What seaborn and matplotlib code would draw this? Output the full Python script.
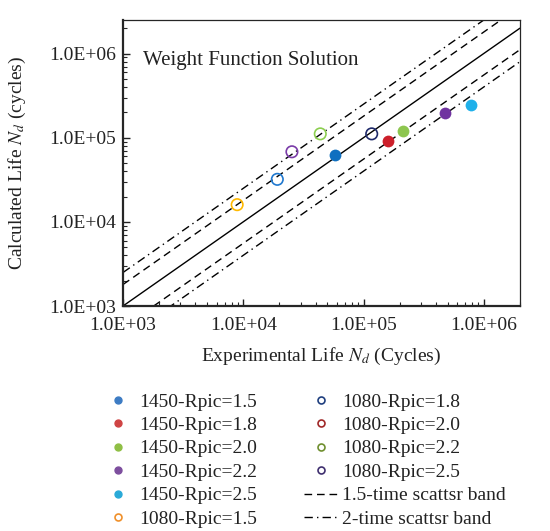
import matplotlib
matplotlib.use("Agg")
import matplotlib.pyplot as plt
from matplotlib.lines import Line2D
from matplotlib.ticker import FuncFormatter, NullFormatter, LogLocator
import seaborn as sns

# 1450 series (filled markers)
fill_labels = ["1450-Rpic=1.5", "1450-Rpic=1.8", "1450-Rpic=2.0", "1450-Rpic=2.2", "1450-Rpic=2.5"]
fill_exp = [5.8e4, 1.61e5, 2.15e5, 4.8e5, 7.8e5]
fill_calc = [6.3e4, 9.2e4, 1.21e5, 1.95e5, 2.43e5]

# 1080 series (open markers)
open_labels = ["1080-Rpic=1.5", "1080-Rpic=1.8", "1080-Rpic=2.0", "1080-Rpic=2.2", "1080-Rpic=2.5"]
open_exp = [8.9e3, 1.17e5, 1.92e4, 4.37e4, 2.54e4]
open_calc = [1.6e4, 1.11e5, 3.2e4, 1.11e5, 6.8e4]

# reference lines
line_x = [1e3, 2e6]
band_labels = ["1.5-time scattsr band", "2-time scattsr band"]
band_factors = [1.8, 2.5]

# colours in the plot / in the legend
fill_colors = ["#0f6fc0", "#cc1f2a", "#8dc64f", "#7033a0", "#1fb0ea"]
open_colors = ["#ffb900", "#1f2a6a", "#1f78cf", "#8ccf4f", "#7a3ca8"]
leg_fill_colors = ["#3d7cc4", "#cf4444", "#8fbf45", "#7d4e9e", "#2aaad8"]
leg_open_colors = ["#f0902a", "#1f3f7f", "#a02828", "#6f8f2f", "#3f2f6f"]
band_styles = [(0, (5.5, 3.5)), (0, (6, 3, 1, 3))]

sns.set_style("ticks")
plt.rcParams["font.family"] = ["Liberation Serif", "DejaVu Serif"]
plt.rcParams["mathtext.fontset"] = "stix"

fig = plt.figure(figsize=(5.5, 5.31), dpi=100)
ax = fig.add_axes([0.2236, 0.4237, 0.7218, 0.5386])
ax.set(xscale="log", yscale="log")

# 1:1 line and scatter bands
sns.lineplot(x=line_x, y=line_x, ax=ax, color="black", lw=1.0, legend=False)
for k, st in zip(band_factors, band_styles):
    sns.lineplot(x=line_x, y=[v * k for v in line_x], ax=ax, color="black", lw=1.0, linestyle=st, legend=False)
    sns.lineplot(x=line_x, y=[v / k for v in line_x], ax=ax, color="black", lw=1.0, linestyle=st, legend=False)

for xv, yv, c in zip(fill_exp, fill_calc, fill_colors):
    sns.scatterplot(x=[xv], y=[yv], ax=ax, color=c, s=72, edgecolor=c, linewidth=0, zorder=3)
for xv, yv, c in zip(open_exp, open_calc, open_colors):
    sns.scatterplot(x=[xv], y=[yv], ax=ax, s=68, marker="o", facecolor="none", edgecolor=c, linewidth=1.2, zorder=3)

ax.set_xlim(1e3, 2e6)
ax.set_ylim(1e3, 2.5e6)

sci = FuncFormatter(lambda v, p: f"{v:.1E}")
for axis in (ax.xaxis, ax.yaxis):
    axis.set_major_locator(LogLocator(base=10, numticks=10))
    axis.set_major_formatter(sci)
    axis.set_minor_locator(LogLocator(base=10, subs=range(2, 10), numticks=20))
    axis.set_minor_formatter(NullFormatter())
ax.tick_params(which="major", direction="in", length=5, width=1, labelsize=14, pad=5, colors="#222222")
ax.tick_params(axis="x", which="major", pad=8)
ax.tick_params(which="minor", direction="in", length=3, width=0.8)

for side in ["left", "bottom"]:
    ax.spines[side].set_linewidth(1.6)
for side in ["top", "right"]:
    ax.spines[side].set_linewidth(0.9)

ax.text(0.05, 0.858, "Weight Function Solution", transform=ax.transAxes,
        fontsize=15, va="center", ha="left", color="#222222")

ax.set_xlabel("Experimental Life $N_d$ (Cycles)", fontsize=14, color="#222222")
ax.set_ylabel("Calculated Life $N_d$ (cycles)", fontsize=14, color="#222222")
ax.xaxis.set_label_coords(0.5, -0.14)
ax.yaxis.set_label_coords(-0.24, 0.5)

# legend (colours as drawn in the reference key)
handles = []
labels = []
for lab, c in zip(fill_labels, leg_fill_colors):
    handles.append(Line2D([], [], marker="o", ls="", color=c, markersize=5))
    labels.append(lab)
for lab, c in zip(open_labels, leg_open_colors):
    handles.append(Line2D([], [], marker="o", ls="", markerfacecolor="none",
                          markeredgecolor=c, markeredgewidth=1.2, markersize=5))
    labels.append(lab)
for lab, st in zip(band_labels, band_styles):
    handles.append(Line2D([], [], color="black", lw=1.0, linestyle=st))
    labels.append(lab)

fig.legend(handles, labels, ncol=2, loc="upper left", bbox_to_anchor=(100 / 550, 1 - 393 / 531),
           frameon=False, fontsize=14, handlelength=1.8, handletextpad=0.2,
           columnspacing=2.4, labelspacing=0.3, borderpad=0, borderaxespad=0,
           labelcolor="#222222")

fig.savefig("out.png", dpi=100)
